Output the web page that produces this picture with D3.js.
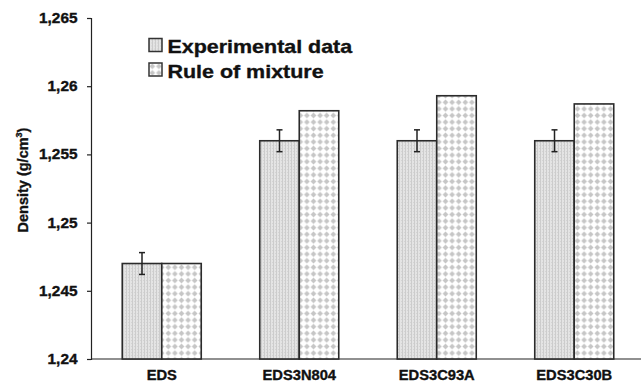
<!DOCTYPE html>
<html>
<head>
<meta charset="utf-8">
<script src="https://cdn.jsdelivr.net/npm/d3@7/dist/d3.min.js"></script>
<style>
  html, body { margin: 0; padding: 0; background: #fff; }
  svg text { font-family: Arial, "Liberation Sans", Helvetica, sans-serif; font-weight: bold; fill: #111; stroke: #111; stroke-width: 0.35px; }
</style>
</head>
<body>
<svg id="chart" width="641" height="382"></svg>
<script>
// Density of each material: measured value vs. rule-of-mixture estimate
const categories = ["EDS", "EDS3N804", "EDS3C93A", "EDS3C30B"];
const experimental = [1.247, 1.256, 1.256, 1.256];
const experimentalError = [0.0008, 0.0008, 0.0008, 0.0008];
const ruleOfMixture = [1.247, 1.2582, 1.2593, 1.2587];
const seriesNames = ["Experimental data", "Rule of mixture"];
const yTicks = [1.24, 1.245, 1.25, 1.255, 1.26, 1.265];
const yTickLabels = ["1,24", "1,245", "1,25", "1,255", "1,26", "1,265"];

const svg = d3.select("#chart");
const margin = { left: 91, right: 0, top: 18, bottom: 23 };
const W = 641, H = 382;

const defs = svg.append("defs");
// fine grey texture for measured bars
const pExp = defs.append("pattern").attr("id", "pat-exp")
  .attr("patternUnits", "userSpaceOnUse").attr("width", 3).attr("height", 3);
pExp.append("rect").attr("width", 3).attr("height", 3).attr("fill", "#e4e4e4");
pExp.append("rect").attr("width", 1).attr("height", 3).attr("fill", "#cccccc");
pExp.append("rect").attr("x", 2).attr("y", 1).attr("width", 1).attr("height", 1).attr("fill", "#d4d4d4");
// dotted diamond texture for rule-of-mixture bars
const pRule = defs.append("pattern").attr("id", "pat-rule")
  .attr("patternUnits", "userSpaceOnUse").attr("width", 6.6).attr("height", 6.6);
pRule.append("rect").attr("width", 6.6).attr("height", 6.6).attr("fill", "#ffffff");
pRule.append("path").attr("d", "M3.3,0.5 L6.1,3.3 L3.3,6.1 L0.5,3.3 Z").attr("fill", "#c6c6c6");

const x = d3.scaleBand().domain(categories).range([93, 643]).paddingInner(0).paddingOuter(0);
const barW = 39.5;
const y = d3.scaleLinear().domain([1.24, 1.265]).range([H - margin.bottom, margin.top]);

// axes
const yAxis = d3.axisLeft(y).tickValues(yTicks)
  .tickFormat((d, i) => yTickLabels[i]).tickSize(4);
const gy = svg.append("g").attr("transform", `translate(${margin.left},0)`).call(yAxis);
gy.select(".domain").attr("stroke", "#222").attr("stroke-width", 1.2);
gy.selectAll(".tick line").attr("stroke", "#222").attr("stroke-width", 1.2);
gy.selectAll(".tick text")
  .attr("x", null)
  .attr("transform", "translate(-13.5,0) scale(1.1,1)")
  .style("font-size", "14px").attr("fill", "#111");

const gx = svg.append("g").attr("transform", `translate(0,${y(1.24)})`);
gx.append("line").attr("x1", margin.left).attr("x2", W).attr("stroke", "#222").attr("stroke-width", 1.2);
gx.selectAll("text").data(categories).join("text")
  .attr("transform", d => `translate(${x(d) + x.bandwidth() / 2},21) scale(1.05,1)`)
  .attr("text-anchor", "middle")
  .style("font-size", "14px")
  .text(d => d);

// bars
const groups = svg.append("g").selectAll("g").data(categories).join("g");
groups.append("rect")
  .attr("x", (d) => x(d) + x.bandwidth() / 2 - barW)
  .attr("y", (d, i) => y(experimental[i]))
  .attr("width", barW)
  .attr("height", (d, i) => y(1.24) - y(experimental[i]))
  .attr("fill", "url(#pat-exp)").attr("stroke", "#2b2b2b").attr("stroke-width", 1.6);
groups.append("rect")
  .attr("x", (d) => x(d) + x.bandwidth() / 2)
  .attr("y", (d, i) => y(ruleOfMixture[i]))
  .attr("width", barW)
  .attr("height", (d, i) => y(1.24) - y(ruleOfMixture[i]))
  .attr("fill", "url(#pat-rule)").attr("stroke", "#2b2b2b").attr("stroke-width", 1.6);

// error bars on measured values
const eb = groups.append("g").attr("stroke", "#222").attr("stroke-width", 1.5);
const cx = d => x(d) + x.bandwidth() / 2 - barW / 2;
eb.append("line")
  .attr("x1", cx).attr("x2", cx)
  .attr("y1", (d, i) => y(experimental[i] + experimentalError[i]))
  .attr("y2", (d, i) => y(experimental[i] - experimentalError[i]));
[1, -1].forEach(s => {
  eb.append("line")
    .attr("x1", d => cx(d) - 3).attr("x2", d => cx(d) + 3)
    .attr("y1", (d, i) => y(experimental[i] + s * experimentalError[i]))
    .attr("y2", (d, i) => y(experimental[i] + s * experimentalError[i]));
});

// y-axis title
const title = svg.append("text")
  .attr("transform", "translate(27.5,180) rotate(-90)")
  .attr("text-anchor", "middle")
  .style("font-size", "14.5px");
title.append("tspan").text("Density (g/cm");
title.append("tspan").text("3").style("font-size", "9px").attr("dy", -6);
title.append("tspan").text(")").attr("dy", 6);

// legend
const legend = svg.append("g").attr("transform", "translate(149,38.5)");
const fills = ["url(#pat-exp)", "url(#pat-rule)"];
seriesNames.forEach((name, i) => {
  const row = legend.append("g").attr("transform", `translate(0,${i * 24.5})`);
  row.append("rect").attr("width", 13).attr("height", 13)
    .attr("fill", fills[i]).attr("stroke", "#333").attr("stroke-width", 1.5);
  row.append("text")
    .attr("transform", "translate(18.5,14.7) scale(1.16,1)")
    .style("font-size", "18.5px").text(name);
});
</script>
</body>
</html>
